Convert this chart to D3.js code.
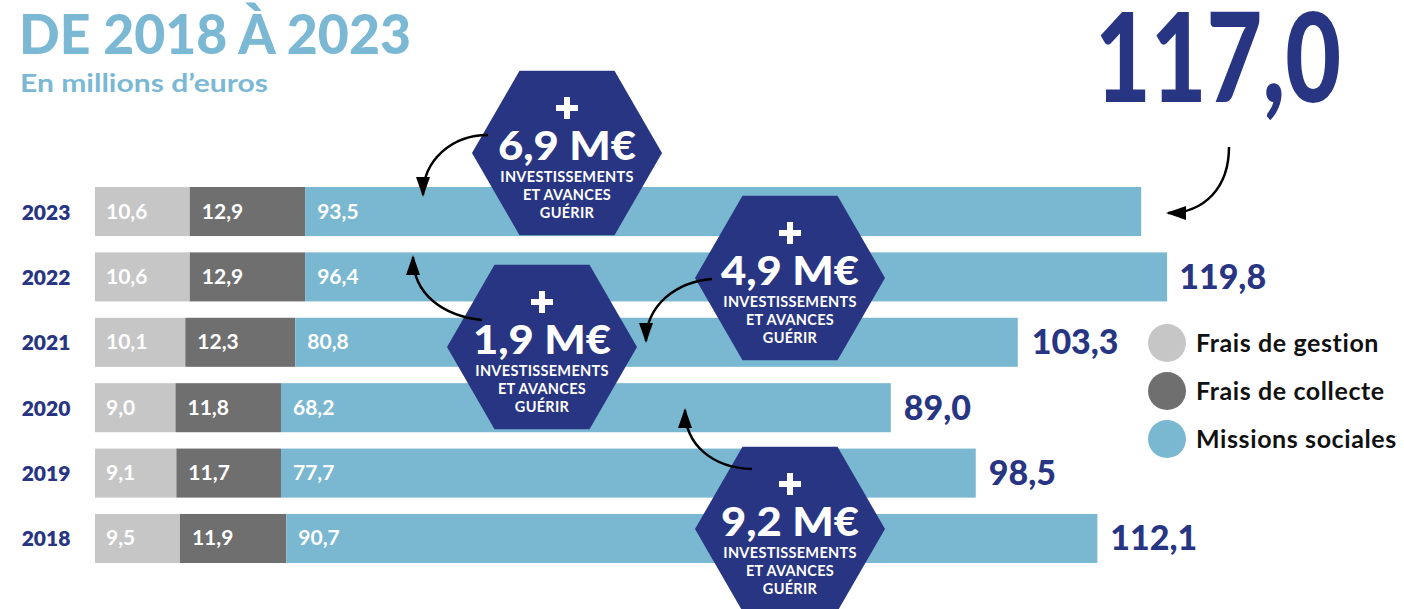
<!DOCTYPE html>
<html>
<head>
<meta charset="utf-8">
<script src="https://cdn.jsdelivr.net/npm/d3@7"></script>
<style>
  body { margin: 0; background: #fff; }
  svg { display: block; font-family: Lato, "Open Sans", sans-serif; }
</style>
</head>
<body>
<svg id="chart" width="1404" height="609"></svg>
<script>
// values (millions d'euros)
var years = ["2023", "2022", "2021", "2020", "2019", "2018"];
var gestion = [10.6, 10.6, 10.1, 9.0, 9.1, 9.5];
var collecte = [12.9, 12.9, 12.3, 11.8, 11.7, 11.9];
var missions = [93.5, 96.4, 80.8, 68.2, 77.7, 90.7];
var totals = [117.0, 119.8, 103.3, 89.0, 98.5, 112.1];
var seriesNames = ["Frais de gestion", "Frais de collecte", "Missions sociales"];
var increments = [6.9, 4.9, 1.9, 9.2];
var incrementTarget = ["2023", "2021", "2022", "2020"];

var colors = ["#c6c6c6", "#6f6f6f", "#7ab7d1"];
var navy = "#283583";
var lightBlue = "#7bb8d4";
var fmt = function(v) { return d3.format(".1f")(v).replace(".", ","); };

var svg = d3.select("#chart");

var x = d3.scaleLinear().domain([0, 120]).range([95, 1168]);
var y = d3.scaleBand().domain(years).range([187, 563]).paddingInner(0.25);

// title
svg.append("text")
  .attr("x", 19).attr("y", 54)
  .attr("fill", lightBlue)
  .attr("font-size", "56px").attr("font-weight", 900)
  .attr("textLength", 392).attr("lengthAdjust", "spacingAndGlyphs")
  .text("DE 2018 À 2023");
svg.append("text")
  .attr("x", 20).attr("y", 92)
  .attr("fill", lightBlue)
  .attr("font-size", "24px").attr("font-weight", 700)
  .attr("textLength", 248).attr("lengthAdjust", "spacingAndGlyphs")
  .text("En millions d’euros");

// stacked rows
var rows = years.map(function(yr, i) {
  var vals = [gestion[i], collecte[i], missions[i]];
  var acc = 0;
  return {
    year: yr, total: totals[i],
    segs: vals.map(function(v, k) { var s = { k: k, v: v, x0: acc, x1: acc + v }; acc += v; return s; })
  };
});

var row = svg.append("g").selectAll("g").data(rows).enter().append("g")
  .attr("transform", function(d) { return "translate(0," + y(d.year) + ")"; });

row.selectAll("rect").data(function(d) { return d.segs; }).enter().append("rect")
  .attr("x", function(s) { return x(s.x0); })
  .attr("width", function(s) { return x(s.x1) - x(s.x0); })
  .attr("height", y.bandwidth())
  .attr("fill", function(s) { return colors[s.k]; });

row.selectAll("text.val").data(function(d) { return d.segs; }).enter().append("text")
  .attr("class", "val")
  .attr("x", function(s) { return x(s.x0) + (s.k === 0 ? 11 : 12); })
  .attr("y", y.bandwidth() / 2 + 7)
  .attr("fill", "#fff")
  .attr("font-size", "21px").attr("font-weight", 700)
  .text(function(s) { return fmt(s.v); });

row.append("text")
  .attr("x", 46).attr("y", y.bandwidth() / 2 + 8)
  .attr("text-anchor", "middle")
  .attr("fill", navy)
  .attr("font-size", "21px").attr("font-weight", 800)
  .text(function(d) { return d.year; });

row.filter(function(d) { return d.year !== "2023"; }).append("text")
  .attr("x", function(d) { return x(d.total) + 13; })
  .attr("y", y.bandwidth() / 2 + 12)
  .attr("fill", navy)
  .attr("font-size", "34px").attr("font-weight", 900)
  .text(function(d) { return fmt(d.total); });

// big 2023 total
svg.append("text")
  .attr("x", 1095).attr("y", 102)
  .attr("fill", navy)
  .attr("font-size", "124px").attr("font-weight", 900)
  .attr("textLength", 246).attr("lengthAdjust", "spacingAndGlyphs")
  .text(fmt(totals[0]));

// hexagon callouts
var hexPos = [[567, 153], [790, 278], [542, 347], [790, 529]];
var r = 95;
var hexPath = function(cx, cy) {
  return d3.range(6).map(function(k) {
    var a = k * Math.PI / 3;
    return (k ? "L" : "M") + (cx + r * Math.cos(a)) + "," + (cy + r * Math.sin(a));
  }).join("") + "Z";
};
var hex = svg.append("g").selectAll("g").data(increments).enter().append("g")
  .attr("transform", function(d, i) { return "translate(" + hexPos[i][0] + "," + hexPos[i][1] + ")"; });
hex.append("path").attr("d", hexPath(0, 0)).attr("fill", navy);
hex.append("rect").attr("x", -11).attr("y", -48).attr("width", 22).attr("height", 6).attr("fill", "#fff");
hex.append("rect").attr("x", -3).attr("y", -56).attr("width", 6).attr("height", 22).attr("fill", "#fff");
hex.append("text")
  .attr("y", 7).attr("text-anchor", "middle").attr("fill", "#fff")
  .attr("font-size", "39px").attr("font-weight", 900)
  .attr("textLength", 138).attr("lengthAdjust", "spacingAndGlyphs")
  .text(function(d) { return fmt(d) + " M€"; });
["INVESTISSEMENTS", "ET AVANCES", "GUÉRIR"].forEach(function(t, k) {
  hex.append("text")
    .attr("y", 29 + k * 18).attr("text-anchor", "middle").attr("fill", "#fff")
    .attr("font-size", "14.5px").attr("font-weight", 700)
    .attr("letter-spacing", "0.3px")
    .text(t);
});

// arrows
svg.append("defs").append("marker")
  .attr("id", "head").attr("markerUnits", "userSpaceOnUse")
  .attr("viewBox", "0 0 20 14").attr("refX", 18).attr("refY", 7)
  .attr("markerWidth", 20).attr("markerHeight", 14).attr("orient", "auto")
  .append("path").attr("d", "M0,0L20,7L0,14Z").attr("fill", "#000");

var arrows = [
  "M488,135C452,135 423,160 423,195",
  "M482,320C444,316 413,295 413,257",
  "M712,279C676,282 646,305 646,341",
  "M752,469C714,468 685,446 685,410",
  "M1229,147C1229,187 1205,213 1168,213"
];
svg.append("g").selectAll("path").data(arrows).enter().append("path")
  .attr("d", function(d) { return d; })
  .attr("fill", "none").attr("stroke", "#000").attr("stroke-width", 2.5)
  .attr("marker-end", "url(#head)");

// legend
var legend = svg.append("g").selectAll("g").data(seriesNames).enter().append("g")
  .attr("transform", function(d, i) { return "translate(1167," + (343 + i * 48) + ")"; });
legend.append("circle").attr("r", 19).attr("fill", function(d, i) { return colors[i]; });
legend.append("text")
  .attr("x", 29).attr("y", 9)
  .attr("fill", "#111").attr("font-size", "25px").attr("font-weight", 700)
  .attr("letter-spacing", "0.6px")
  .text(function(d) { return d; });
</script>
</body>
</html>
